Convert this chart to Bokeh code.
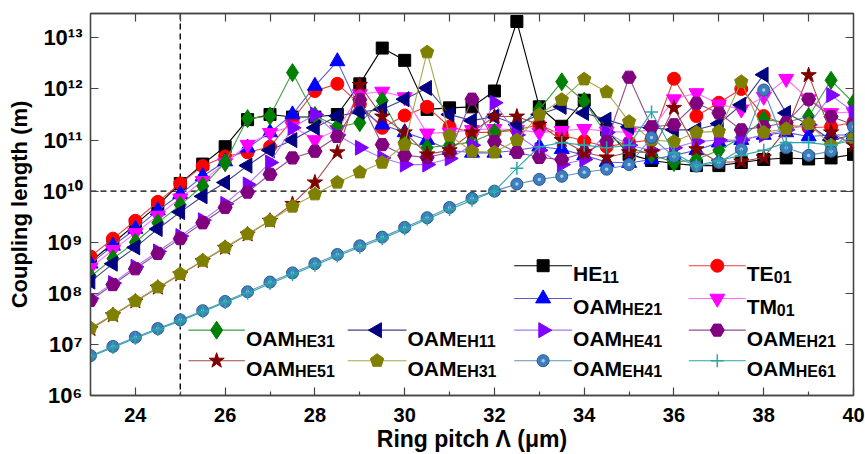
from bokeh.plotting import figure
from bokeh.models import (Span, Label, FixedTicker, LinearAxis, LogAxis,
                          CustomJSTickFormatter, Range1d)
from bokeh.embed import file_html
from bokeh.resources import INLINE

# ---------------- data (log10 of coupling length) -------------
pitch = [23.0, 23.5, 24.0, 24.5, 25.0, 25.5, 26.0, 26.5, 27.0, 27.5, 28.0, 28.5,
         29.0, 29.5, 30.0, 30.5, 31.0, 31.5, 32.0, 32.5, 33.0, 33.5, 34.0, 34.5,
         35.0, 35.5, 36.0, 36.5, 37.0, 37.5, 38.0, 38.5, 39.0, 39.5, 40.0]

HE11 = [8.62, 8.98, 9.35, 9.72, 10.15, 10.53, 10.87, 11.40, 11.50, 11.45, 11.45, 11.50,
        12.10, 12.80, 12.56, 11.60, 11.63, 11.65, 11.96, 13.32, 11.65, 11.27, 11.78, 11.20,
        10.72, 10.60, 10.54, 10.50, 10.50, 10.56, 10.62, 10.65, 10.63, 10.65, 10.72]
TE01 = [8.72, 9.07, 9.42, 9.79, 10.15, 10.49, 10.68, 10.76, 10.87, 11.40, 11.96, 12.10,
        11.70, 11.24, 11.48, 11.65, 11.26, 11.15, 11.15, 11.20, 11.30, 11.10, 10.98, 10.87,
        10.95, 11.00, 12.20, 11.47, 11.73, 12.00, 11.47, 11.30, 11.24, 11.26, 11.35]
HE21 = [8.58, 8.93, 9.26, 9.62, 9.94, 10.29, 10.58, 10.85, 11.15, 11.50, 12.06, 12.54,
        11.60, 11.30, 11.15, 11.00, 10.80, 10.75, 10.75, 10.80, 10.87, 10.82, 10.70, 10.57,
        10.55, 10.62, 10.70, 10.80, 10.95, 11.00, 11.10, 11.15, 11.07, 11.10, 11.10]
TM01 = [8.50, 8.85, 9.18, 9.52, 9.86, 10.20, 10.55, 10.91, 11.14, 11.27, 11.00, 11.20,
        11.90, 11.95, 11.84, 11.13, 11.15, 11.20, 11.22, 11.20, 11.15, 11.18, 11.22, 11.17,
        11.15, 11.20, 11.80, 11.92, 11.70, 11.60, 11.85, 12.20, 11.80, 11.53, 11.55]
HE31 = [8.33, 8.68, 9.00, 9.38, 9.73, 10.10, 10.56, 11.42, 11.47, 12.32, 11.48, 11.26,
        11.34, 11.77, 10.97, 10.85, 10.90, 10.96, 11.15, 11.23, 11.60, 12.14, 11.76, 11.10,
        10.85, 10.72, 10.56, 10.62, 10.80, 11.05, 11.40, 11.35, 11.46, 12.17, 11.73]
EH11 = [8.23, 8.58, 8.90, 9.26, 9.59, 9.90, 10.17, 10.50, 10.80, 11.00, 11.24, 11.47,
        11.55, 11.60, 11.80, 12.02, 11.50, 11.38, 11.46, 11.30, 11.50, 11.65, 11.53, 11.40,
        11.26, 11.24, 11.20, 11.20, 11.32, 11.69, 12.28, 11.53, 11.30, 11.00, 11.10]
HE41 = [7.90, 8.20, 8.52, 8.82, 9.12, 9.43, 9.75, 10.13, 10.56, 11.24, 11.50, 11.10,
        10.85, 10.65, 10.52, 10.52, 10.64, 10.90, 11.73, 11.10, 10.80, 10.52, 10.62, 11.15,
        10.90, 10.80, 10.85, 10.97, 11.00, 11.00, 11.10, 11.20, 11.30, 11.88, 11.55]
EH21 = [7.86, 8.17, 8.48, 8.78, 9.07, 9.38, 9.68, 9.98, 10.33, 10.65, 10.78, 11.07,
        11.79, 10.91, 10.70, 10.66, 10.76, 11.80, 10.97, 10.76, 10.66, 10.62, 10.75, 10.97,
        12.23, 11.26, 11.30, 11.72, 11.53, 11.20, 11.26, 11.34, 11.80, 11.46, 11.30]
HE51 = [7.30, 7.57, 7.84, 8.11, 8.37, 8.63, 8.89, 9.15, 9.42, 9.75, 10.17, 10.76,
        12.08, 11.46, 11.15, 10.72, 10.80, 11.15, 11.46, 11.46, 11.30, 11.00, 10.76, 10.66,
        10.76, 10.76, 11.63, 10.82, 10.56, 10.58, 10.66, 11.20, 12.27, 11.15, 10.90]
EH31 = [7.32, 7.58, 7.85, 8.12, 8.38, 8.64, 8.90, 9.16, 9.42, 9.70, 9.94, 10.17,
        10.37, 10.56, 10.91, 12.72, 11.09, 10.78, 10.76, 11.00, 11.50, 11.79, 12.19, 11.94,
        11.36, 11.00, 10.97, 11.15, 11.17, 12.14, 11.15, 11.22, 11.32, 10.90, 11.05]
EH41 = [6.78, 6.96, 7.14, 7.31, 7.48, 7.66, 7.84, 8.03, 8.22, 8.40, 8.58, 8.76,
        8.93, 9.10, 9.29, 9.48, 9.68, 9.86, 10.00, 10.14, 10.23, 10.29, 10.37, 10.43,
        10.52, 11.05, 10.68, 10.49, 10.56, 10.82, 11.98, 10.85, 10.70, 10.78, 11.26]
HE61 = [6.76, 6.94, 7.12, 7.29, 7.46, 7.64, 7.82, 8.00, 8.19, 8.37, 8.55, 8.73,
        8.90, 9.07, 9.26, 9.45, 9.64, 9.82, 10.00, 10.45, 10.87, 10.95, 10.90, 10.85,
        10.90, 11.55, 10.75, 10.50, 10.60, 10.70, 10.80, 10.95, 10.95, 10.90, 11.00]

x_major = [24, 26, 28, 30, 32, 34, 36, 38, 40]
x_minor = [23, 25, 27, 29, 31, 33, 35, 37, 39]
y_ticks = [1e6, 1e7, 1e8, 1e9, 1e10, 1e11, 1e12, 1e13]

# ---------------- styles ---------------------------------------------------------------
# name, exps, main label, subscript, marker, fill, line colour, size, angle
series = [
    ("HE11", HE11, "HE", "11", "square", "#000000", "#000000", 12, 0),
    ("TE01", TE01, "TE", "01", "circle", "#ff0000", "#e84040", 13, 0),
    ("HE21", HE21, "OAM", "HE21", "triangle", "#0000ff", "#5a5ad8", 15, 0),
    ("TM01", TM01, "TM", "01", "inverted_triangle", "#ff00ff", "#ff70ff", 15, 0),
    ("HE31", HE31, "OAM", "HE31", "diamond", "#008000", "#40a040", 18, 0),
    ("EH11", EH11, "OAM", "EH11", "triangle", "#000080", "#40408f", 15, 1.5708),
    ("HE41", HE41, "OAM", "HE41", "triangle", "#8000ff", "#a878ff", 15, -1.5708),
    ("EH21", EH21, "OAM", "EH21", "hex", "#800080", "#8f4f8f", 14, 0),
    ("HE51", HE51, "OAM", "HE51", "star", "#800000", "#a04848", 16, 0),
    ("EH31", EH31, "OAM", "EH31", "pentagon", "#808000", "#a8a850", 14, 0),
    ("EH41", EH41, "OAM", "EH41", "circle", "#3d7ebf", "#6090c0", 12, 0),
    ("HE61", HE61, "OAM", "HE61", "plus", "#2aa6a6", "#2aa6a6", 13, 0),
]

# legend layout (data units of the axes)
col_x = [(25.18, 26.44), (28.73, 30.04), (32.44, 33.73), (36.33, 37.60)]
row_y = [3.47e8, 7.9e7, 1.9e7, 4.8e6]
slots = [(0, 2), (0, 3), (1, 2), (1, 3), (2, 0), (2, 1), (2, 2), (2, 3),
         (3, 0), (3, 1), (3, 2), (3, 3)]
main_w = {"OAM": 49, "HE": 29, "TE": 27, "TM": 30}

BOLD_FONT = "Liberation Sans"

p = figure(width=865, height=454, x_range=Range1d(23, 40), y_range=Range1d(1e6, 3e13),
           y_axis_type="log", output_backend="svg", toolbar_location=None,
           min_border_left=90, min_border_right=12, min_border_top=13, min_border_bottom=57)
p.xgrid.visible = False
p.ygrid.visible = False
p.outline_line_color = "#444444"
p.outline_line_width = 1.3
p.background_fill_color = "white"
p.border_fill_color = "white"

fmt = CustomJSTickFormatter(code=r"""
const s = ['\u2070','\u00b9','\u00b2','\u00b3','\u2074','\u2075','\u2076','\u2077','\u2078','\u2079'];
const e = Math.round(Math.log10(tick));
let out = '';
for (const c of String(e)) { out += s[parseInt(c)]; }
return '10' + out;
""")

def style_axis(ax, labels=True):
    ax.axis_line_color = "#444444"
    ax.axis_line_width = 1.3
    ax.major_tick_line_color = "#444444"
    ax.minor_tick_line_color = "#444444"
    ax.major_tick_line_width = 1.2
    ax.minor_tick_line_width = 1.2
    ax.major_tick_in = 8
    ax.major_tick_out = 0
    ax.minor_tick_in = 4
    ax.minor_tick_out = 0
    if not labels:
        ax.major_label_text_font_size = "1px"
        ax.major_label_text_color = None
        ax.major_label_standoff = 0

xa = p.xaxis[0]
xa.ticker = FixedTicker(ticks=x_major, minor_ticks=x_minor)
style_axis(xa)
xa.major_label_text_font = BOLD_FONT
xa.major_label_text_font_style = "bold"
xa.major_label_text_font_size = "20px"
xa.major_label_text_color = "black"
xa.major_label_standoff = 12
xa.axis_label = "Ring pitch \u039b (\u03bcm)"
xa.axis_label_text_font = BOLD_FONT
xa.axis_label_text_font_style = "bold"
xa.axis_label_text_font_size = "23px"
xa.axis_label_text_color = "black"
xa.axis_label_standoff = 1

ya = p.yaxis[0]
ya.ticker = FixedTicker(ticks=y_ticks, minor_ticks=[])
ya.formatter = fmt
style_axis(ya)
ya.major_label_text_font = BOLD_FONT
ya.major_label_text_font_style = "bold"
ya.major_label_text_font_size = "22px"
ya.major_label_text_color = "black"
ya.major_label_standoff = 8
ya.axis_label = "Coupling length (m)"
ya.axis_label_text_font = BOLD_FONT
ya.axis_label_text_font_style = "bold"
ya.axis_label_text_font_size = "22px"
ya.axis_label_text_color = "black"
ya.axis_label_standoff = 8

top = LinearAxis(ticker=FixedTicker(ticks=list(range(24, 40)), minor_ticks=[]))
style_axis(top, labels=False)
p.add_layout(top, "above")
right = LogAxis(ticker=FixedTicker(ticks=y_ticks, minor_ticks=[]))
style_axis(right, labels=False)
p.add_layout(right, "right")

for loc, dim in ((25, "height"), (1e10, "width")):
    sp = Span(location=loc, dimension=dim, line_color="black", line_width=1.4,
              line_dash="6 4", level="underlay")
    p.add_layout(sp)


def draw_marker(xs, ys, marker, fill, size, angle, lcol):
    if marker == "pentagon":
        try:
            return p.ngon(x=xs, y=ys, radius=size / 2.0, radius_units="screen", n=5,
                          fill_color=fill, line_color=fill, angle=angle)
        except Exception:
            marker = "hex"
    if marker == "plus":
        return p.scatter(xs, ys, marker="cross", size=size, line_color=fill, line_width=1.5)
    if marker == "circle" and fill == "#3d7ebf":
        r = p.scatter(xs, ys, marker="circle", size=size, fill_color=fill, line_color="#2a5a8a")
        p.scatter(xs, ys, marker="circle", size=3.5, fill_color="#a8c8e8", line_color=None)
        return r
    return p.scatter(xs, ys, marker=marker, size=size, angle=angle,
                     fill_color=fill, line_color=fill)


for (name, exps, main, sub, marker, fill, lcol, size, angle), (ri, ci) in zip(series, slots):
    vals = [10 ** e for e in exps]
    p.line(pitch, vals, line_color=lcol, line_width=1.1)
    draw_marker(pitch, vals, marker, fill, size, angle, lcol)

# custom legend with subscripts
for (name, exps, main, sub, marker, fill, lcol, size, angle), (ri, ci) in zip(series, slots):
    x0, x1 = col_x[ci]
    yv = row_y[ri]
    p.line([x0, x1], [yv, yv], line_color=lcol, line_width=1.1)
    draw_marker([(x0 + x1) / 2.0], [yv], marker, fill, size, angle, lcol)
    p.add_layout(Label(x=x1, y=yv, text=main, text_font=BOLD_FONT, text_font_style="bold",
                       text_font_size="21px", text_baseline="alphabetic", y_offset=-8,
                       x_offset=1, text_color="black"))
    p.add_layout(Label(x=x1, y=yv, text=sub, text_font=BOLD_FONT, text_font_style="bold",
                       text_font_size="16px", text_baseline="alphabetic", y_offset=-11,
                       x_offset=main_w[main] + 1, text_color="black"))

with open("out.html", "w", encoding="utf-8") as f:
    f.write(file_html(p, INLINE))
